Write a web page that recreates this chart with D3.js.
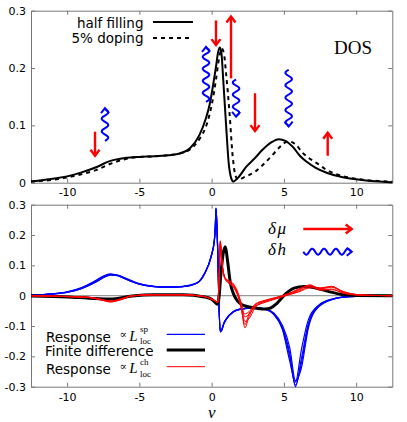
<!DOCTYPE html>
<html>
<head>
<meta charset="utf-8">
<script src="https://cdn.jsdelivr.net/npm/d3@7"></script>
<style>
  body { margin: 0; background: #fff; }
  svg { display: block; }
</style>
</head>
<body>
<svg id="chart" width="407" height="422"></svg>
<script>
// ---- data ----
const xTicks = [-10, -5, 0, 5, 10];
const topYTicks = [0, 0.1, 0.2, 0.3];
const botYTicks = [-0.3, -0.2, -0.1, 0, 0.1, 0.2, 0.3];

// DOS, half filling (solid)
const halfNu = [-12.5, -11, -10, -9, -8, -7, -6, -5, -4, -3, -2.2, -1.5, -0.85, -0.4, -0.15, 0.1, 0.3, 0.45, 0.57, 0.68, 0.8, 1.0, 1.18, 1.35, 1.5, 1.8, 2.4, 3, 3.5, 4.1, 4.65, 5.1, 5.6, 6.1, 6.6, 7.2, 8, 9, 10, 11, 12.5];
const halfDos = [0.002, 0.007, 0.011, 0.018, 0.027, 0.038, 0.043, 0.045, 0.046, 0.048, 0.051, 0.06, 0.083, 0.112, 0.135, 0.17, 0.202, 0.228, 0.236, 0.225, 0.18, 0.1, 0.034, 0.008, 0.002, 0.008, 0.028, 0.043, 0.057, 0.07, 0.076, 0.073, 0.063, 0.047, 0.036, 0.026, 0.017, 0.01, 0.006, 0.003, 0.001];

// DOS, 5% doping (dashed)
const dopNu = [-12.5, -11, -10, -9, -8, -7, -6, -5, -4, -3, -2.2, -1.5, -0.85, -0.3, 0, 0.3, 0.5, 0.7, 0.85, 1.0, 1.22, 1.46, 1.65, 1.85, 2.2, 3, 3.5, 4.2, 4.7, 5.3, 5.8, 6.3, 6.9, 7.4, 7.9, 8.4, 9, 9.7, 10.5, 11.5, 12.5];
const dopDos = [0.002, 0.005, 0.009, 0.015, 0.022, 0.033, 0.041, 0.045, 0.046, 0.048, 0.051, 0.058, 0.076, 0.105, 0.135, 0.18, 0.215, 0.234, 0.225, 0.19, 0.127, 0.045, 0.012, 0.005, 0.009, 0.019, 0.03, 0.048, 0.062, 0.072, 0.067, 0.052, 0.04, 0.032, 0.023, 0.017, 0.012, 0.008, 0.005, 0.003, 0.002];

// arrows in the DOS panel
const redArrowNu = [-8.07, 0.3, 1.34, 3.0, 8.03];
const redArrowFrom = [0.089, 0.283, 0.182, 0.156, 0.047];
const redArrowTo = [0.047, 0.24, 0.29, 0.09, 0.087];
const blueArrowNu = [-7.38, -0.39, 1.69, 5.33];
const blueArrowFrom = [0.073, 0.141, 0.18, 0.197];
const blueArrowTo = [0.13, 0.237, 0.115, 0.098];

// response ∝ L^sp (blue, several runs)
const blueNu = [-12.5, -11, -10, -9, -8, -7.5, -7, -6.5, -6, -5, -4, -3, -2, -1, -0.5, -0.04, 0.19, 0.26, 0.3, 0.36, 0.42, 0.5, 0.6, 0.7, 0.85, 1, 1.5, 2, 3, 3.7, 4.3, 4.9, 5.4, 5.8, 6.2, 6.7, 7.4, 8.4, 9.5, 11, 12.5];
const blueA = [0.002, 0.006, 0.012, 0.025, 0.048, 0.062, 0.070, 0.066, 0.056, 0.038, 0.030, 0.028, 0.030, 0.042, 0.072, 0.128, 0.183, 0.235, 0.287, 0.235, 0.15, -0.02, -0.118, -0.112, -0.09, -0.078, -0.053, -0.044, -0.040, -0.044, -0.060, -0.105, -0.190, -0.300, -0.210, -0.090, -0.034, -0.011, -0.003, -0.001, 0];
const blueB = [0.002, 0.006, 0.013, 0.027, 0.051, 0.065, 0.072, 0.067, 0.056, 0.038, 0.030, 0.028, 0.030, 0.042, 0.071, 0.127, 0.182, 0.232, 0.284, 0.232, 0.148, -0.02, -0.117, -0.111, -0.09, -0.077, -0.052, -0.043, -0.039, -0.044, -0.062, -0.112, -0.215, -0.285, -0.180, -0.078, -0.031, -0.010, -0.003, -0.001, 0];
const blueC = [0.002, 0.005, 0.011, 0.023, 0.045, 0.059, 0.068, 0.066, 0.057, 0.039, 0.031, 0.028, 0.030, 0.042, 0.072, 0.129, 0.184, 0.236, 0.288, 0.237, 0.152, -0.02, -0.119, -0.113, -0.091, -0.078, -0.053, -0.044, -0.040, -0.043, -0.057, -0.098, -0.170, -0.280, -0.240, -0.105, -0.037, -0.012, -0.003, -0.001, 0];
const blueD = [0.002, 0.006, 0.012, 0.024, 0.046, 0.060, 0.069, 0.068, 0.059, 0.040, 0.031, 0.029, 0.031, 0.043, 0.073, 0.130, 0.185, 0.238, 0.290, 0.238, 0.153, -0.02, -0.120, -0.114, -0.092, -0.079, -0.054, -0.045, -0.041, -0.045, -0.061, -0.108, -0.200, -0.295, -0.225, -0.098, -0.035, -0.011, -0.003, -0.001, 0];

// finite difference (black)
const blackNu = [-12.5, -10, -8.5, -7, -5.5, -4, -2, -0.5, 0, 0.2, 0.4, 0.5, 0.62, 0.8, 0.95, 1.1, 1.3, 1.55, 1.8, 2.1, 2.6, 3.2, 3.7, 4.1, 4.5, 5.1, 5.7, 6.4, 7.2, 8, 9, 10, 12.5];
const blackVal = [-0.001, -0.004, -0.008, -0.011, -0.001, 0.003, 0.003, -0.004, -0.012, -0.02, -0.028, -0.01, 0.06, 0.14, 0.161, 0.115, 0.04, 0.002, -0.018, -0.03, -0.037, -0.042, -0.044, -0.04, -0.026, 0.005, 0.025, 0.03, 0.025, 0.015, 0.004, 0.001, 0];

// response ∝ L^ch (red, several runs)
const redNu = [-12.5, -10, -8.5, -7.7, -7, -6.3, -5.5, -4, -2, -0.5, 0.2, 0.42, 0.52, 0.6, 0.68, 0.76, 0.9, 1.1, 1.45, 1.7, 1.85, 2.05, 2.3, 2.6, 3, 3.7, 4.5, 5.2, 6, 6.8, 7.5, 8.3, 9.1, 10, 11, 12.5];
const redA = [0, -0.003, -0.006, -0.013, -0.021, -0.012, 0.0, 0.003, 0.003, -0.003, -0.017, -0.022, 0.06, 0.181, 0.13, 0.094, 0.062, 0.048, 0.034, 0.014, -0.004, -0.04, -0.106, -0.068, -0.034, -0.018, -0.007, 0.003, 0.017, 0.036, 0.022, 0.028, 0.011, 0.003, 0.001, 0];
const redB = [0, -0.003, -0.005, -0.011, -0.018, -0.013, -0.001, 0.003, 0.003, -0.003, -0.016, -0.021, 0.055, 0.17, 0.125, 0.09, 0.06, 0.05, 0.04, 0.02, 0.002, -0.03, -0.085, -0.075, -0.04, -0.02, -0.008, 0.002, 0.014, 0.03, 0.024, 0.031, 0.013, 0.004, 0.001, 0];
const redC = [0, -0.003, -0.006, -0.014, -0.019, -0.010, 0.0, 0.003, 0.003, -0.003, -0.017, -0.022, 0.058, 0.175, 0.128, 0.092, 0.058, 0.044, 0.03, 0.012, -0.006, -0.045, -0.095, -0.058, -0.03, -0.016, -0.006, 0.004, 0.02, 0.033, 0.02, 0.022, 0.009, 0.003, 0.001, 0];
const redD = [0, -0.002, -0.005, -0.012, -0.02, -0.014, -0.001, 0.003, 0.003, -0.003, -0.016, -0.021, 0.057, 0.172, 0.126, 0.091, 0.061, 0.052, 0.042, 0.024, 0.006, -0.025, -0.07, -0.06, -0.036, -0.022, -0.01, 0.001, 0.012, 0.026, 0.026, 0.03, 0.014, 0.004, 0.001, 0];
const redE = [0, -0.003, -0.006, -0.012, -0.017, -0.011, 0.0, 0.003, 0.003, -0.003, -0.017, -0.022, 0.059, 0.178, 0.129, 0.093, 0.06, 0.046, 0.036, 0.017, -0.002, -0.035, -0.06, -0.052, -0.028, -0.015, -0.005, 0.005, 0.022, 0.034, 0.018, 0.02, 0.008, 0.002, 0.001, 0];

// ---- drawing ----
const BLUE = "#0000ff";
const RED = "#ff0000";
const FRAME = "#777";
const svg = d3.select("#chart");

const x = d3.scaleLinear().domain([-12.5, 12.5]).range([31, 392.3]);
const yTop = d3.scaleLinear().domain([0, 0.3]).range([182.7, 10.7]);
const yBot = d3.scaleLinear().domain([-0.3, 0.3]).range([386.7, 204.7]);

const fmt = (d) => String(d);
const zip = (xs, ys) => xs.map((v, i) => [v, ys[i]]);

function frame(y, yTicks, xPad) {
  const [yb, yt] = y.range();
  const g = svg.append("g");
  g.append("g")
    .attr("transform", `translate(0,${yb})`)
    .call(d3.axisBottom(x).tickValues(xTicks).tickFormat(fmt).tickSize(-4).tickSizeOuter(0).tickPadding(xPad));
  g.append("g")
    .attr("transform", `translate(0,${yt})`)
    .call(d3.axisTop(x).tickValues(xTicks).tickFormat("").tickSize(-4).tickSizeOuter(0));
  g.append("g")
    .attr("transform", `translate(${x.range()[0]},0)`)
    .call(d3.axisLeft(y).tickValues(yTicks).tickFormat(fmt).tickSize(-4).tickSizeOuter(0).tickPadding(5));
  g.append("g")
    .attr("transform", `translate(${x.range()[1]},0)`)
    .call(d3.axisRight(y).tickValues(yTicks).tickFormat("").tickSize(-4).tickSizeOuter(0));
  g.selectAll(".domain, .tick line").attr("stroke", FRAME);
  g.selectAll("text")
    .attr("font-family", "DejaVu Sans")
    .attr("font-size", 11)
    .attr("fill", "#000");
}

function arrowHead(g, x0, y0, x1, y1, len, half, color, width) {
  const l = Math.hypot(x1 - x0, y1 - y0);
  const ux = (x1 - x0) / l, uy = (y1 - y0) / l;
  g.append("path")
    .attr("d", d3.line()([
      [x1 - ux * len - uy * half, y1 - uy * len + ux * half],
      [x1, y1],
      [x1 - ux * len + uy * half, y1 - uy * len - ux * half],
    ]))
    .attr("fill", "none").attr("stroke", color).attr("stroke-width", width)
    .attr("stroke-linejoin", "miter");
}

function straightArrow(g, x0, y0, x1, y1) {
  g.append("line")
    .attr("x1", x0).attr("y1", y0).attr("x2", x1).attr("y2", y1)
    .attr("stroke", RED).attr("stroke-width", 2.4);
  arrowHead(g, x0, y0, x1, y1, 6, 4.5, RED, 2.4);
}

function wavyArrow(g, x0, y0, x1, y1, amp, wl) {
  const l = Math.hypot(x1 - x0, y1 - y0);
  const ux = (x1 - x0) / l, uy = (y1 - y0) / l;
  const run = l - 1;
  const halves = Math.max(1, Math.round(run / (wl / 2)));
  const w = (2 * run) / halves;
  const pts = d3.range(0, run + 0.01, 0.5).map((s) => {
    const o = amp * Math.sin((2 * Math.PI * s) / w);
    return [x0 + ux * s - uy * o, y0 + uy * s + ux * o];
  });
  pts.push([x1, y1]);
  g.append("path")
    .attr("d", d3.line().curve(d3.curveBasis)(pts))
    .attr("fill", "none").attr("stroke", BLUE).attr("stroke-width", 2);
  arrowHead(g, x0, y0, x1, y1, 5, 4, BLUE, 2);
}

// ---- top panel: DOS ----
frame(yTop, topYTicks, 6);

const lineTop = d3.line().x((d) => x(d[0])).y((d) => yTop(d[1])).curve(d3.curveMonotoneX);
svg.append("path")
  .attr("d", lineTop(zip(dopNu, dopDos)))
  .attr("fill", "none").attr("stroke", "#000").attr("stroke-width", 2)
  .attr("stroke-dasharray", "4,4");
svg.append("path")
  .attr("d", lineTop(zip(halfNu, halfDos)))
  .attr("fill", "none").attr("stroke", "#000").attr("stroke-width", 2);

const arrowsG = svg.append("g");
redArrowNu.forEach((nu, i) =>
  straightArrow(arrowsG, x(nu), yTop(redArrowFrom[i]), x(nu), yTop(redArrowTo[i]))
);
blueArrowNu.forEach((nu, i) =>
  wavyArrow(arrowsG, x(nu), yTop(blueArrowFrom[i]), x(nu), yTop(blueArrowTo[i]), 3.3, 12)
);

// legend
const legTop = svg.append("g").attr("font-family", "DejaVu Sans").attr("font-size", 13.5);
legTop.append("text").attr("x", 143.5).attr("y", 27.5).attr("text-anchor", "end").text("half filling");
legTop.append("text").attr("x", 143.5).attr("y", 43).attr("text-anchor", "end").text("5% doping");
legTop.append("line").attr("x1", 153).attr("x2", 193).attr("y1", 22).attr("y2", 22)
  .attr("stroke", "#000").attr("stroke-width", 2);
legTop.append("line").attr("x1", 153).attr("x2", 193).attr("y1", 38).attr("y2", 38)
  .attr("stroke", "#000").attr("stroke-width", 2).attr("stroke-dasharray", "4,4");
svg.append("text")
  .attr("x", 372).attr("y", 53.5).attr("text-anchor", "end")
  .attr("font-family", "Liberation Serif").attr("font-size", 19)
  .text("DOS");

// ---- bottom panel: response ----
frame(yBot, botYTicks, 6.5);

svg.append("line")
  .attr("x1", x.range()[0]).attr("x2", x.range()[1])
  .attr("y1", yBot(0)).attr("y2", yBot(0))
  .attr("stroke", "#999").attr("stroke-width", 1.2);

const lineBot = d3.line().x((d) => x(d[0])).y((d) => yBot(d[1])).curve(d3.curveMonotoneX);
[blueA, blueB, blueC, blueD].forEach((ys) =>
  svg.append("path")
    .attr("d", lineBot(zip(blueNu, ys)))
    .attr("fill", "none").attr("stroke", BLUE).attr("stroke-width", 1.2)
);
svg.append("path")
  .attr("d", lineBot(zip(blackNu, blackVal)))
  .attr("fill", "none").attr("stroke", "#000").attr("stroke-width", 3);
[redA, redB, redC, redD, redE].forEach((ys) =>
  svg.append("path")
    .attr("d", lineBot(zip(redNu, ys)))
    .attr("fill", "none").attr("stroke", RED).attr("stroke-width", 1)
);

// perturbation legend
const pert = svg.append("g").attr("font-family", "Liberation Serif").attr("font-style", "italic").attr("font-size", 17);
pert.append("text").attr("x", 268).attr("y", 234).attr("letter-spacing", 1.5).text("δμ");
pert.append("text").attr("x", 268).attr("y", 255).attr("letter-spacing", 1.5).text("δh");
straightArrow(pert, 303.3, 229, 351.7, 229);
wavyArrow(pert, 303.3, 251.7, 351.7, 251.7, 3, 12);

// curve legend
const legBot = svg.append("g");
function texLabel(yBase, sup) {
  const g = legBot.append("g");
  g.append("text").attr("x", 46).attr("y", yBase)
    .attr("font-family", "DejaVu Sans").attr("font-size", 13.5).text("Response");
  g.append("text").attr("x", 119.5).attr("y", yBase - 4)
    .attr("font-family", "DejaVu Serif").attr("font-size", 11).text("∝");
  g.append("text").attr("x", 129.3).attr("y", yBase - 1)
    .attr("font-family", "Liberation Serif").attr("font-style", "italic").attr("font-size", 15).text("L");
  g.append("text").attr("x", 140).attr("y", yBase - 9.5)
    .attr("font-family", "Liberation Serif").attr("font-size", 9).text(sup);
  g.append("text").attr("x", 140).attr("y", yBase + 2.5)
    .attr("font-family", "Liberation Serif").attr("font-size", 9).text("loc");
}
texLabel(341.5, "sp");
legBot.append("text").attr("x", 45).attr("y", 355.5)
  .attr("font-family", "DejaVu Sans").attr("font-size", 13.5).text("Finite difference");
texLabel(374, "ch");

legBot.append("line").attr("x1", 166.7).attr("x2", 205).attr("y1", 334.3).attr("y2", 334.3)
  .attr("stroke", BLUE).attr("stroke-width", 1.2);
legBot.append("line").attr("x1", 166.7).attr("x2", 205).attr("y1", 350).attr("y2", 350)
  .attr("stroke", "#000").attr("stroke-width", 3);
legBot.append("line").attr("x1", 166.7).attr("x2", 205).attr("y1", 366.7).attr("y2", 366.7)
  .attr("stroke", RED).attr("stroke-width", 1);

svg.append("text")
  .attr("x", 211.7).attr("y", 417.5).attr("text-anchor", "middle")
  .attr("font-family", "Liberation Serif").attr("font-style", "italic").attr("font-size", 17)
  .text("ν");
</script>
</body>
</html>
